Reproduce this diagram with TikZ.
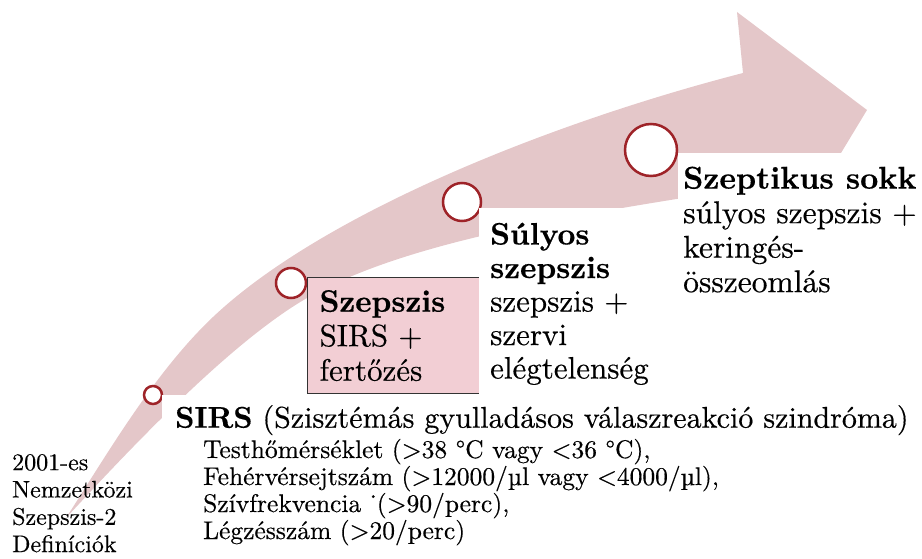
\documentclass[tikz,border=0pt]{standalone}
\usepackage{fontspec}
\setmainfont{lmroman10-regular.otf}[BoldFont=lmroman10-bold.otf, FakeBold=0.4]
\usepackage{xcolor}
\usepackage{tikz}
\usetikzlibrary{positioning,calc}

\definecolor{nyilszin}{RGB}{228,199,201}
\definecolor{dobozszin}{RGB}{242,206,212}
\definecolor{korszin}{RGB}{158,35,40}

\begin{document}
\begin{tikzpicture}[x=1pt, y=-1pt,
    nyil/.style={fill=nyilszin},
    kor/.style={circle, draw=korszin, line width=2.5pt, fill=white, inner sep=0pt},
    cimke/.style={anchor=north west, fill=white, align=left, inner ysep=13.5pt, font=\fontsize{31.5}{34.5}\selectfont},
    doboz/.style={anchor=north west, draw=black!80, line width=1.2pt, fill=dobozszin, text width=149pt, inner xsep=12pt, minimum height=116pt, align=left, font=\fontsize{31}{34.5}\selectfont},
    krit/.style={anchor=base west, inner sep=0pt, font=\fontsize{25.5}{27}\selectfont}
]
\useasboundingbox (0,0) rectangle (922,559);

% Arrow
\fill[nyil] (66,518) .. controls (109,451) and (155,372) .. (213,317)
    .. controls (322,214) and (549,123) .. (743,73)
    -- (737,12) -- (867,110) -- (815,196) -- (745,188)
    .. controls (597,212) and (411,238) .. (307,298)
    .. controls (229,343) and (127,452) .. (66,518) -- cycle;

% Circles
\node[kor, minimum size=18pt] (k1) at (153,395) {};
\node[kor, minimum size=30pt] (k2) at (291,283) {};
\node[kor, minimum size=38pt] (k3) at (462,202) {};
\node[kor, minimum size=52pt] (k4) at (651,150) {};

% Labels
\node[doboz] (szepszis) at (307,277) {\textbf{Szepszis}\\SIRS +\\fertőzés};
\node[cimke, inner xsep=11pt, inner ysep=14.5pt, font=\fontsize{31}{33.5}\selectfont] (sulyos) at (479,208)
    {\textbf{Súlyos}\\\textbf{szepszis}\\szepszis +\\szervi\\elégtelenség};
\node[cimke, inner xsep=5pt] (sokk) at (678,153)
    {\textbf{Szeptikus sokk}\\súlyos szepszis +\\keringés-\\összeomlás};
\node[cimke, inner xsep=13pt, inner ysep=10pt, font=\fontsize{30}{33}\selectfont] (sirs) at (162,395)
    {\textbf{SIRS} (Szisztémás gyulladásos válaszreakció szindróma)};

\foreach \t [count=\i] in {{Testhőmérséklet (>38 °C vagy <36 °C),},
    {Fehérvérsejtszám (>12000/µl vagy <4000/µl),},
    {Szívfrekvencia ˙(>90/perc),},
    {Légzésszám (>20/perc)}}
    \node[krit] (krit\i) at (203,431+27*\i) {\t};

\node[anchor=north west, inner sep=0pt, align=left, font=\fontsize{24}{27.3}\selectfont] (def) at (12,454)
    {2001-es\\Nemzetközi\\Szepszis-2\\Definíciók};

\end{tikzpicture}
\end{document}
